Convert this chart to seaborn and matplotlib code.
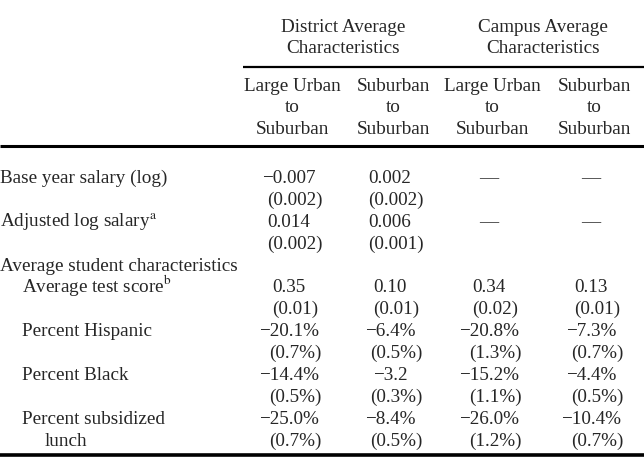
import numpy as np
import matplotlib
matplotlib.use("Agg")
import matplotlib.pyplot as plt
import seaborn as sns

# Table content
group_headers = ["District Average\nCharacteristics", "Campus Average\nCharacteristics"]
col_headers = ["Large Urban\nto\nSuburban", "Suburban\nto\nSuburban",
               "Large Urban\nto\nSuburban", "Suburban\nto\nSuburban"]

row_labels = ["Base year salary (log)", "",
              "Adjusted log salary$^{\\mathrm{a}}$", "",
              "Average student characteristics",
              "Average test score$^{\\mathrm{b}}$", "",
              "Percent Hispanic", "",
              "Percent Black", "",
              "Percent subsidized", "lunch"]
row_indent = [0, 0, 0, 0, 0, 1, 0, 1, 0, 1, 0, 1, 2]

col1 = ["\u22120.007", "(0.002)", "0.014", "(0.002)", "", "0.35", "(0.01)",
        "\u221220.1%", "(0.7%)", "\u221214.4%", "(0.5%)", "\u221225.0%", "(0.7%)"]
col2 = ["0.002", "(0.002)", "0.006", "(0.001)", "", "0.10", "(0.01)",
        "\u22126.4%", "(0.5%)", "\u22123.2", "(0.3%)", "\u22128.4%", "(0.5%)"]
col3 = ["\u2014", "", "\u2014", "", "", "0.34", "(0.02)",
        "\u221220.8%", "(1.3%)", "\u221215.2%", "(1.1%)", "\u221226.0%", "(1.2%)"]
col4 = ["\u2014", "", "\u2014", "", "", "0.13", "(0.01)",
        "\u22127.3%", "(0.7%)", "\u22124.4%", "(0.5%)", "\u221210.4%", "(0.7%)"]

sns.set_theme(style="white")
plt.rcParams['font.family'] = ['Liberation Serif', 'DejaVu Serif']
plt.rcParams['mathtext.fontset'] = 'stix'

fig = plt.figure(figsize=(6.44, 4.6), dpi=100)
ax = fig.add_axes([0, 0, 1, 1])
ax.set_xlim(0, 644)
ax.set_ylim(460, 0)
ax.axis("off")

fs = 13.8
col_x = [292, 393, 492, 594]
group_x = [343, 543]

# headers
for gx, g in zip(group_x, group_headers):
    ax.text(gx, 38, g, ha="center", va="center", fontsize=fs, linespacing=1.25)
for cx, c in zip(col_x, col_headers):
    ax.text(cx, 108, c, ha="center", va="center", fontsize=fs, linespacing=1.38)

ax.hlines(68, 243, 644, color="black", lw=1.6)
ax.hlines(147, 0, 644, color="black", lw=2.2)
ax.hlines(456, 0, 644, color="black", lw=2.6)

# body
y0, dy = 183, 21.9
for i, (lab, ind) in enumerate(zip(row_labels, row_indent)):
    y = y0 + i * dy
    if lab:
        ax.text(ind * 22.5, y, lab, ha="left", va="baseline", fontsize=fs)
    for cx, col in zip(col_x, [col1, col2, col3, col4]):
        v = col[i]
        if not v:
            continue
        shift = 3 if v.startswith("(") else -3
        ax.text(cx + shift, y, v, ha="center", va="baseline", fontsize=fs)

fig.savefig("out.png", dpi=100)
